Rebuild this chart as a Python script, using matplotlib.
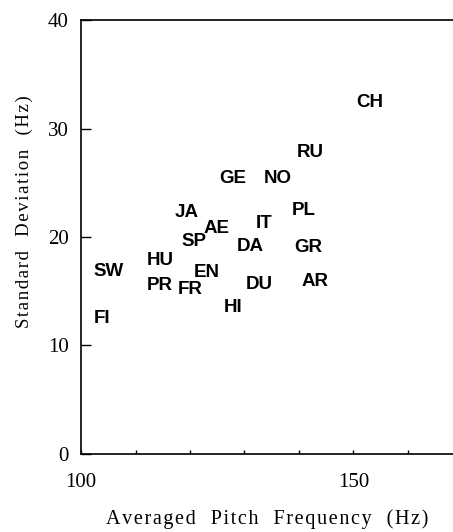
import matplotlib
matplotlib.use("Agg")
import matplotlib.pyplot as plt

# language codes with averaged pitch (Hz) and its standard deviation (Hz)
langs = ["CH", "RU", "GE", "NO", "JA", "AE", "IT", "PL", "SP", "DA",
         "GR", "SW", "HU", "EN", "PR", "FR", "DU", "AR", "HI", "FI"]
pitch = [153.0, 142.0, 127.9, 136.2, 119.4, 124.9, 133.6, 140.8, 120.7, 131.0,
         141.7, 105.0, 114.5, 123.1, 114.5, 120.0, 132.7, 143.0, 127.9, 103.8]
std_dev = [32.4, 27.8, 25.4, 25.4, 22.3, 20.8, 21.2, 22.4, 19.6, 19.1,
           19.0, 16.8, 17.8, 16.7, 15.5, 15.2, 15.6, 15.9, 13.5, 12.5]

xticks = [100, 110, 120, 130, 140, 150, 160]
xticklabels = ["100", "", "", "", "", "150", ""]
yticks = [0, 10, 20, 30, 40]


def spaced(s):
    # the scanned labels have a loose letter spacing
    return "\u200a".join(s).replace("\u200a \u200a", "   ")


fig = plt.figure(figsize=(4.53, 5.32), dpi=100)
ax = fig.add_axes([0.179, 0.147, 0.821, 0.815])

for code, x, y in zip(langs, pitch, std_dev):
    ax.text(x, y, code, ha="center", va="center", fontsize=13.5,
            fontweight="bold", family="Liberation Sans")

ax.set_xlim(100, 168.3)
ax.set_ylim(0, 40)
ax.set_xticks(xticks)
ax.set_xticklabels(xticklabels)
ax.set_yticks(yticks)
ax.tick_params(direction="in", width=1, labelsize=15)
ax.tick_params(axis="x", length=3, pad=14)
ax.tick_params(axis="y", length=7, pad=9)
for lab in ax.get_xticklabels() + ax.get_yticklabels():
    lab.set_family("Liberation Serif")

ax.spines["right"].set_visible(False)
for s in ["left", "top", "bottom"]:
    ax.spines[s].set_linewidth(1.2)

ax.set_xlabel(spaced("Averaged Pitch Frequency (Hz)"),
              family="Liberation Serif", fontsize=14.5, labelpad=12)
ax.set_ylabel(spaced("Standard Deviation (Hz)"),
              family="Liberation Serif", fontsize=13.5)
ax.yaxis.set_label_coords(-0.13, 0.558)

fig.savefig("out.png", dpi=100)
